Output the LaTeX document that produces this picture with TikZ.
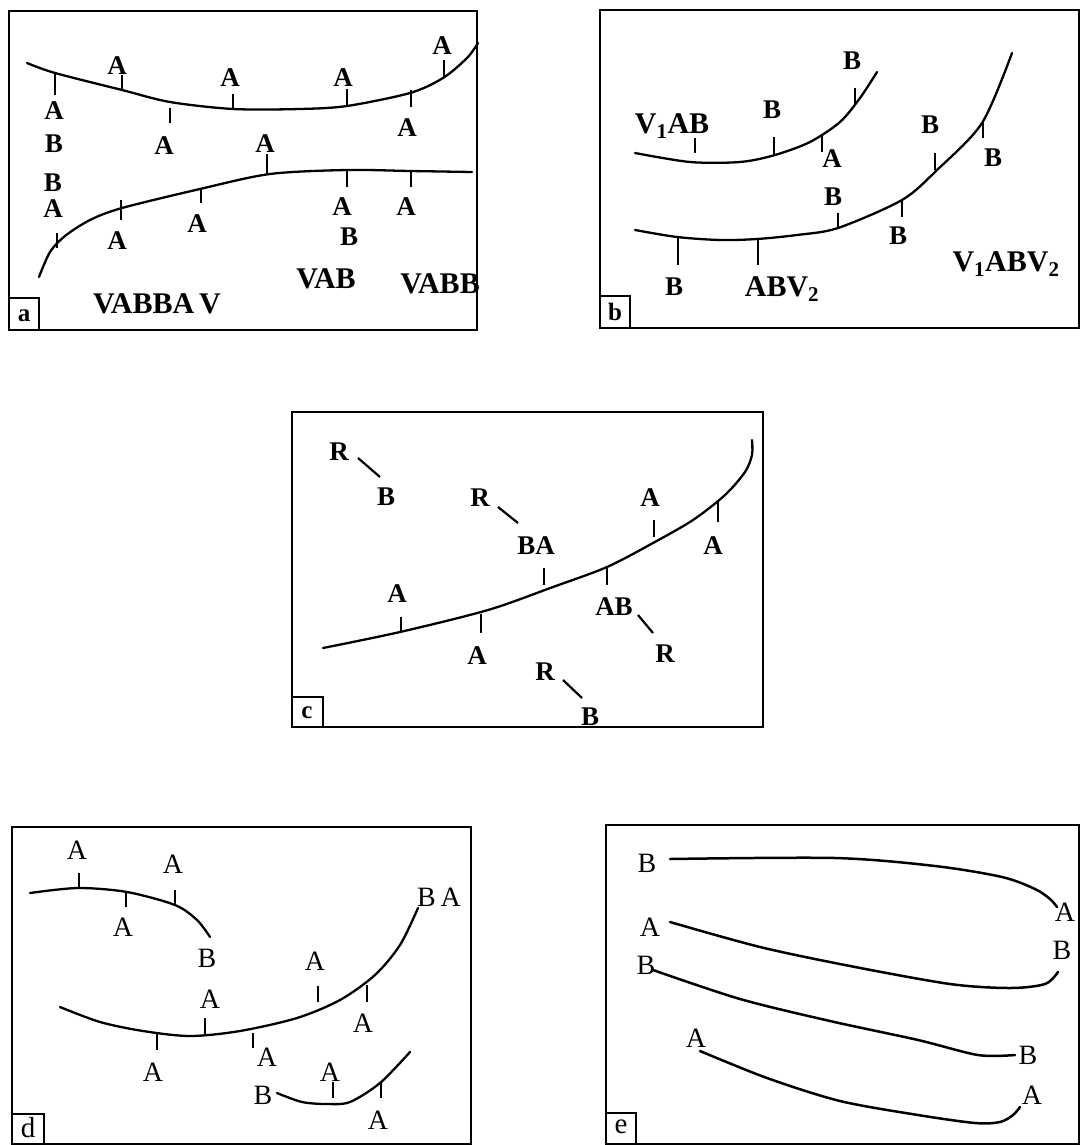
\documentclass[tikz,border=0pt]{standalone}
\usepackage{fontspec}
\setmainfont{Liberation Serif}
\usetikzlibrary{calc}
\begin{document}
\begin{tikzpicture}[x=1pt,y=-1pt,
  frame/.style={line width=1.8pt},
  curve/.style={line width=2.3pt, line cap=round, line join=round},
  curvee/.style={line width=2.5pt, line cap=round, line join=round},
  tick/.style={line width=1.5pt},
  bl/.style={inner sep=0pt, font=\fontsize{27}{27}\selectfont\bfseries, text height=18pt, text depth=0pt},
  bg/.style={inner sep=0pt, font=\fontsize{30}{30}\selectfont\bfseries, text height=20pt, text depth=0pt},
  rl/.style={inner sep=0pt, font=\fontsize{28}{28}\selectfont, text height=18pt, text depth=0pt},
  tagb/.style={inner sep=0pt, font=\fontsize{25}{25}\selectfont\bfseries},
  tagr/.style={inner sep=0pt, font=\fontsize{29}{29}\selectfont},
  rb/.style={line width=2.2pt}
]
\useasboundingbox (0,0) rectangle (1080,1145);

% ---------------- panel a ----------------
\draw[frame] (9,11) rectangle (477,330);
\draw[frame] (9,298) rectangle (39,330);
\node[tagb] (ta) at (24,316) {a};
\draw[curve] plot[smooth, tension=0.5] coordinates {(27,63) (55,73) (122,90) (170,102) (233,109) (300,109) (347,106) (410,93) (443,78) (467,58) (478,43)};
\draw[tick] (55,73) -- (55,95);
\node[bl] (a1) at (54,111) {A};
\node[bl] (a2) at (54,144) {B};
\draw[tick] (122,75) -- (122,90);
\node[bl] (a3) at (117,66) {A};
\draw[tick] (170,108) -- (170,123);
\node[bl] (a4) at (164,145) {A};
\draw[tick] (233,94) -- (233,109);
\node[bl] (a5) at (230,78) {A};
\draw[tick] (347,89) -- (347,106);
\node[bl] (a6) at (343,78) {A};
\draw[tick] (411,90) -- (411,107);
\node[bl] (a7) at (407,127) {A};
\draw[tick] (444,60) -- (444,77);
\node[bl] (a8) at (442,46) {A};
\draw[curve] plot[smooth, tension=0.5] coordinates {(39,277) (50,252) (65,236) (90,220) (122,208) (200,189) (270,174) (347,170) (410,171) (472,172)};
\draw[tick] (57,233) -- (57,248);
\node[bl] (a9) at (53,182) {B};
\node[bl] (a10) at (53,208) {A};
\draw[tick] (121,200) -- (121,220);
\node[bl] (a11) at (117,240) {A};
\draw[tick] (201,188) -- (201,203);
\node[bl] (a12) at (197,223) {A};
\draw[tick] (267,154) -- (267,174);
\node[bl] (a13) at (265,144) {A};
\draw[tick] (347,170) -- (347,187);
\node[bl] (a14) at (342,206) {A};
\node[bl] (a15) at (349,236) {B};
\draw[tick] (411,171) -- (411,187);
\node[bl] (a16) at (406,206) {A};
\node[bg] (a17) at (326,278) {VAB};
\node[bg] (a18) at (440,283) {VABB};
\node[bg] (a19) at (157,303) {VABBA\,V};

% ---------------- panel b ----------------
\draw[frame] (600,10) rectangle (1079,328);
\draw[frame] (600,296) rectangle (630,328);
\node[tagb] (tb) at (615,312) {b};
\draw[curve] plot[smooth, tension=0.5] coordinates {(635,153) (690,162) (740,162) (775,155) (810,142) (840,122) (860,98) (877,72)};
\draw[tick] (695,138) -- (695,153);
\node[bg] (b1) at (672,123) {V\textsubscript{1}AB};
\draw[tick] (774,137) -- (774,155);
\node[bl] (b2) at (772,109) {B};
\draw[tick] (822,136) -- (822,152);
\node[bl] (b3) at (832,158) {A};
\draw[tick] (855,88) -- (855,105);
\node[bl] (b4) at (852,61) {B};
\draw[curve] plot[smooth, tension=0.5] coordinates {(635,230) (677,237) (720,240) (757,239) (797,235) (838,228) (902,200) (937,170) (982,123) (1012,53)};
\draw[tick] (678,237) -- (678,265);
\node[bl] (b5) at (674,286) {B};
\draw[tick] (758,239) -- (758,265);
\node[bg] (b6) at (782,286) {ABV\textsubscript{2}};
\draw[tick] (838,213) -- (838,228);
\node[bl] (b7) at (833,196) {B};
\draw[tick] (902,200) -- (902,217);
\node[bl] (b8) at (898,235) {B};
\draw[tick] (935,153) -- (935,170);
\node[bl] (b9) at (930,125) {B};
\draw[tick] (983,121) -- (983,138);
\node[bl] (b10) at (993,157) {B};
\node[bg] (b11) at (1006,261) {V\textsubscript{1}ABV\textsubscript{2}};

% ---------------- panel c ----------------
\draw[frame] (292,412) rectangle (763,727);
\draw[frame] (292,697) rectangle (323,727);
\node[tagb] (tc) at (307,713) {c};
\draw[curve] plot[smooth, tension=0.5] coordinates {(323,648) (400,632) (488,610) (553,587) (607,567) (653,543) (693,520) (725,495) (745,472) (752,455) (752,440)};
\draw[tick] (401,617) -- (401,632);
\node[bl] (c1) at (397,593) {A};
\draw[tick] (481,614) -- (481,633);
\node[bl] (c2) at (477,655) {A};
\draw[tick] (544,568) -- (544,585);
\node[bl] (c3) at (536,545) {BA};
\draw[tick] (607,567) -- (607,585);
\node[bl] (c4) at (614,606) {AB};
\draw[tick] (654,520) -- (654,537);
\node[bl] (c5) at (650,497) {A};
\draw[tick] (718,502) -- (718,522);
\node[bl] (c6) at (713,545) {A};
\node[bl] (r1) at (339,451) {R};
\node[bl] (c7) at (386,496) {B};
\node[bl] (r2) at (480,497) {R};
\node[bl] (r3) at (665,653) {R};
\node[bl] (r4) at (545,671) {R};
\node[bl] (c8) at (590,716) {B};
\draw[rb] ($(r1)+(19,7)$) -- ($(c7)+(-6,-19)$);
\draw[rb] ($(r2)+(18,10)$) -- ($(c3)+(-18,-22)$);
\draw[rb] ($(c4)+(24,9)$) -- ($(r3)+(-12,-20)$);
\draw[rb] ($(r4)+(18,9)$) -- ($(c8)+(-8,-18)$);

% ---------------- panel d ----------------
\draw[frame] (12,827) rectangle (471,1144);
\draw[frame] (12,1114) rectangle (44,1144);
\node[tagr] (td) at (28,1128) {d};
\draw[curve] plot[smooth, tension=0.5] coordinates {(30,893) (78,888) (127,892) (175,905) (197,920) (210,937)};
\draw[tick] (79,873) -- (79,889);
\node[rl] (d1) at (77,850) {A};
\draw[tick] (126,892) -- (126,907);
\node[rl] (d2) at (123,927) {A};
\draw[tick] (175,890) -- (175,906);
\node[rl] (d3) at (173,864) {A};
\node[rl] (d4) at (207,958) {B};
\draw[curve] plot[smooth, tension=0.5] coordinates {(60,1007) (100,1022) (143,1031) (190,1036) (240,1031) (297,1018) (340,1000) (375,975) (400,945) (418,908)};
\draw[tick] (157,1033) -- (157,1050);
\node[rl] (d5) at (153,1072) {A};
\draw[tick] (205,1018) -- (205,1035);
\node[rl] (d6) at (210,999) {A};
\draw[tick] (253,1033) -- (253,1048);
\node[rl] (d7) at (267,1057) {A};
\draw[tick] (318,986) -- (318,1002);
\node[rl] (d8) at (315,961) {A};
\draw[tick] (367,985) -- (367,1002);
\node[rl] (d9) at (363,1023) {A};
\node[rl] (d10) at (439,897) {B\,A};
\draw[curve] plot[smooth, tension=0.5] coordinates {(277,1093) (302,1102) (327,1104) (350,1102) (380,1083) (410,1052)};
\draw[tick] (333,1082) -- (333,1098);
\node[rl] (d11) at (330,1072) {A};
\draw[tick] (381,1082) -- (381,1098);
\node[rl] (d12) at (378,1120) {A};
\node[rl] (d13) at (263,1095) {B};

% ---------------- panel e ----------------
\draw[frame] (606,825) rectangle (1079,1144);
\draw[frame] (606,1113) rectangle (636,1144);
\node[tagr] (te) at (621,1127) {e};
\draw[curvee] plot[smooth, tension=0.5] coordinates {(670,859) (835,858) (935,866) (1002,877) (1035,889) (1050,899) (1057,907)};
\node[rl] (e1) at (647,863) {B};
\node[rl] (e2) at (1065,912) {A};
\draw[curvee] plot[smooth, tension=0.5] coordinates {(670,922) (760,947) (850,966) (950,984) (1010,988) (1045,984) (1058,972)};
\node[rl] (e3) at (650,927) {A};
\node[rl] (e4) at (1062,950) {B};
\draw[curvee] plot[smooth, tension=0.5] coordinates {(653,970) (740,999) (830,1021) (918,1040) (978,1055) (1015,1055)};
\node[rl] (e5) at (646,965) {B};
\node[rl] (e6) at (1028,1055) {B};
\draw[curvee] plot[smooth, tension=0.5] coordinates {(700,1051) (767,1078) (840,1101) (918,1115) (975,1123) (1000,1122) (1013,1115) (1020,1107)};
\node[rl] (e7) at (696,1038) {A};
\node[rl] (e8) at (1032,1095) {A};
\end{tikzpicture}
\end{document}
